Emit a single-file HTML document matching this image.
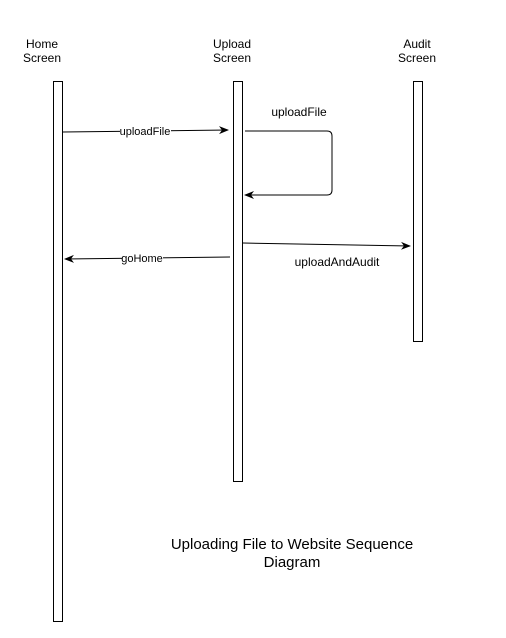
<!DOCTYPE html>
<html><head><style>
body{margin:0;background:#fff;width:506px;height:633px;overflow:hidden;font-family:"Liberation Sans",sans-serif;}
</style></head><body>
<svg width="506" height="633" xmlns="http://www.w3.org/2000/svg" font-family="Liberation Sans, sans-serif">
<defs><marker id="a" markerWidth="10" markerHeight="10" refX="9" refY="5" orient="auto" markerUnits="userSpaceOnUse"><path d="M0,1 L10,5 L0,9 L3,5 z" fill="#000"/></marker></defs>
<g font-size="12" text-anchor="middle" fill="#000">
<text x="42" y="48">Home</text><text x="42" y="62">Screen</text>
<text x="232" y="48">Upload</text><text x="232" y="62">Screen</text>
<text x="417" y="48">Audit</text><text x="417" y="62">Screen</text>
</g>
<g fill="#fff" stroke="#000" stroke-width="1">
<rect x="53.5" y="81.5" width="9" height="540"/>
<rect x="233.5" y="81.5" width="9" height="400"/>
<rect x="413.5" y="81.5" width="9" height="260"/>
</g>
<g stroke="#000" stroke-width="1" fill="none">
<line x1="63" y1="132" x2="228" y2="130" marker-end="url(#a)"/>
<path d="M245,131 H327 Q332,131 332,136 V190 Q332,195 327,195 H245" marker-end="url(#a)"/>
<line x1="243" y1="243" x2="410" y2="246" marker-end="url(#a)"/>
<line x1="230" y1="257" x2="65" y2="259" marker-end="url(#a)"/>
</g>
<rect x="120" y="125" width="51" height="12" fill="#fff"/>
<rect x="122" y="252" width="41" height="12" fill="#fff"/>
<g font-size="11" text-anchor="middle" fill="#000">
<text x="145" y="135">uploadFile</text>
<text x="142" y="262">goHome</text>
</g>
<g font-size="12" text-anchor="middle" fill="#000">
<text x="299" y="116">uploadFile</text>
<text x="337" y="266">uploadAndAudit</text>
</g>
<g font-size="15" text-anchor="middle" fill="#000">
<text x="292" y="549">Uploading File to Website Sequence</text>
<text x="292" y="567">Diagram</text>
</g>
</svg>
</body></html>
